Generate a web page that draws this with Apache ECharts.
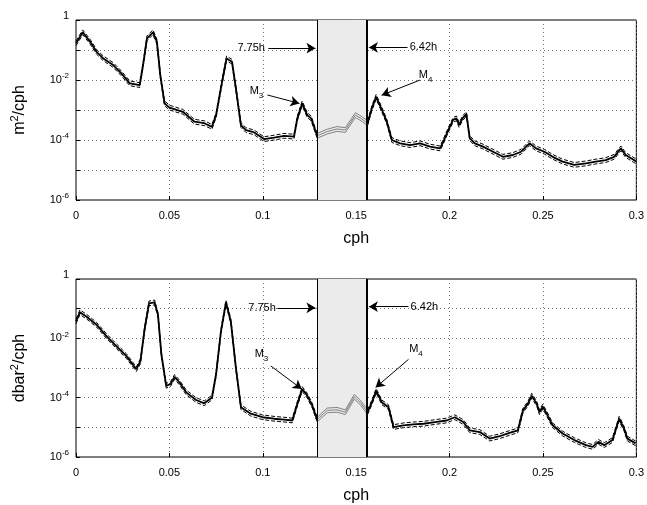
<!DOCTYPE html>
<html>
<head>
<meta charset="utf-8">
<script src="https://cdn.jsdelivr.net/npm/echarts@6/dist/echarts.min.js"></script>
<style>
html,body{margin:0;padding:0;background:#fff;}
#chart{width:647px;height:505px;}
</style>
</head>
<body>
<div id="chart"></div>
<script>
// ---------- data ----------
const xTicks = [0, 0.05, 0.1, 0.15, 0.2, 0.25, 0.3];

const freqTop = [0, 0.0036, 0.0075, 0.011, 0.0146, 0.0199, 0.0243, 0.0288, 0.0341, 0.0359,
  0.038, 0.0412, 0.0433, 0.0451, 0.0474, 0.0501, 0.0572, 0.0634, 0.0687, 0.0728,
  0.075, 0.0782, 0.0806, 0.0835, 0.0856, 0.0883, 0.091, 0.0954, 0.1007, 0.106,
  0.1114, 0.1167, 0.1185, 0.1211, 0.1238, 0.1259, 0.1291, 0.1345, 0.1398, 0.1442,
  0.1496, 0.1526, 0.1561, 0.1584, 0.1607, 0.1638, 0.1664, 0.1691, 0.1735, 0.1789,
  0.1842, 0.1895, 0.1949, 0.1966, 0.1993, 0.2019, 0.2037, 0.2051, 0.2069, 0.209,
  0.2108, 0.2135, 0.2179, 0.2233, 0.2286, 0.2339, 0.2383, 0.2428, 0.2463, 0.2508,
  0.2552, 0.2605, 0.2668, 0.273, 0.2783, 0.2836, 0.2881, 0.2917, 0.2943, 0.3];
const psdTop = [1.66e-1, 3.89e-1, 1.91e-1, 8.71e-2, 5.25e-2, 3.16e-2, 1.66e-2, 7.76e-3, 6.76e-3, 3.16e-2,
  2.45e-1, 3.89e-1, 1.91e-1, 1.48e-2, 1.66e-3, 1.20e-3, 8.71e-4, 4.07e-4, 3.63e-4, 2.75e-4,
  6.76e-4, 8.71e-3, 5.25e-2, 4.07e-2, 5.25e-3, 3.16e-4, 2.14e-4, 1.78e-4, 1.07e-4, 1.20e-4,
  1.38e-4, 1.29e-4, 5.25e-4, 1.66e-3, 6.76e-4, 5.25e-4, 1.38e-4, 1.91e-4, 2.34e-4, 2.14e-4,
  6.76e-4, 5.25e-4, 3.63e-4, 1.15e-3, 2.75e-3, 1.00e-3, 4.07e-4, 1.00e-4, 7.76e-5, 6.76e-5,
  7.76e-5, 6.03e-5, 5.25e-5, 8.71e-5, 2.14e-4, 4.68e-4, 5.25e-4, 3.16e-4, 5.25e-4, 7.24e-4,
  1.15e-4, 7.76e-5, 6.03e-5, 4.07e-5, 2.75e-5, 3.16e-5, 4.07e-5, 7.76e-5, 5.25e-5, 4.07e-5,
  2.75e-5, 1.91e-5, 1.48e-5, 1.66e-5, 1.91e-5, 2.14e-5, 2.75e-5, 5.25e-5, 3.16e-5, 1.91e-5];

const freqBot = [0, 0.0021, 0.0057, 0.011, 0.0164, 0.0217, 0.027, 0.0323, 0.0345, 0.0368,
  0.0391, 0.0421, 0.0439, 0.0457, 0.0483, 0.0506, 0.0528, 0.0554, 0.059, 0.0643,
  0.0687, 0.0728, 0.075, 0.0776, 0.0803, 0.0829, 0.0856, 0.0883, 0.0936, 0.0998,
  0.106, 0.1114, 0.1158, 0.1185, 0.1211, 0.1238, 0.1265, 0.1291, 0.1345, 0.1398,
  0.1442, 0.149, 0.1522, 0.1561, 0.1584, 0.1607, 0.1638, 0.1673, 0.17, 0.1753,
  0.1806, 0.186, 0.1922, 0.1984, 0.2028, 0.2073, 0.2108, 0.2162, 0.2215, 0.2268,
  0.2321, 0.2366, 0.2393, 0.2419, 0.244, 0.2467, 0.2481, 0.2499, 0.252, 0.2552,
  0.2605, 0.2668, 0.273, 0.2766, 0.2797, 0.2828, 0.2872, 0.2908, 0.2934, 0.2952, 0.2996];
const psdBot = [3.72e-2, 7.59e-2, 5.37e-2, 2.88e-2, 1.17e-2, 5.37e-3, 2.51e-3, 9.12e-4, 1.70e-3, 2.19e-2,
  1.51e-1, 1.62e-1, 6.17e-2, 2.88e-3, 2.51e-4, 2.88e-4, 5.01e-4, 3.24e-4, 1.51e-4, 8.32e-5,
  6.46e-5, 1.02e-4, 6.17e-4, 1.70e-2, 1.62e-1, 3.72e-2, 1.02e-3, 4.79e-5, 2.88e-5, 2.19e-5,
  1.95e-5, 1.82e-5, 1.70e-5, 6.17e-5, 1.95e-4, 1.17e-4, 5.37e-5, 1.82e-5, 3.72e-5, 3.89e-5,
  3.24e-5, 1.07e-4, 6.92e-5, 3.24e-5, 6.92e-5, 1.70e-4, 6.92e-5, 4.79e-5, 1.02e-5, 1.17e-5,
  1.26e-5, 1.32e-5, 1.51e-5, 1.70e-5, 2.19e-5, 1.51e-5, 7.94e-6, 6.92e-6, 4.17e-6, 5.01e-6,
  6.46e-6, 7.94e-6, 3.72e-5, 6.17e-5, 1.17e-4, 6.17e-5, 3.24e-5, 5.01e-5, 2.88e-5, 1.17e-5,
  6.17e-6, 3.72e-6, 2.51e-6, 2.19e-6, 3.24e-6, 2.51e-6, 3.72e-6, 1.95e-5, 9.12e-6, 4.17e-6, 2.88e-6];

// 95% confidence multiplier of the spectral estimate
const ciFactor = 1.2;
// excluded band (periods in hours)
const bandPeriods = [7.75, 6.42];
const bandLo = 1 / bandPeriods[0], bandHi = 1 / bandPeriods[1];

// annotations (data coordinates)
const annTop = {
  p1: {text: '7.75h', label: [0.0938, 0.115], from: [0.1030, 0.115], to: [0.1282, 0.115]},
  p2: {text: '6.42h', label: [0.1860, 0.122], from: [0.1775, 0.122], to: [0.1568, 0.122]},
  m3: {text: 'M{sub|3}', label: [0.0966, 4.3e-3], from: [0.1025, 3.16e-3], to: [0.1196, 1.66e-3]},
  m4: {text: 'M{sub|4}', label: [0.1872, 1.48e-2], from: [0.1842, 1.0e-2], to: [0.1636, 3.1e-3]}
};
const annBot = {
  p1: {text: '7.75h', label: [0.0996, 0.107], from: [0.1078, 0.107], to: [0.1282, 0.107]},
  p2: {text: '6.42h', label: [0.1865, 0.117], from: [0.1780, 0.117], to: [0.1568, 0.117]},
  m3: {text: 'M{sub|3}', label: [0.0993, 2.95e-3], from: [0.1043, 1.17e-3], to: [0.1209, 1.95e-4]},
  m4: {text: 'M{sub|4}', label: [0.1820, 4.3e-3], from: [0.1780, 1.95e-3], to: [0.1604, 2.2e-4]}
};

// ---------- build ----------
const FONT = 'Liberation Sans, Arial, Helvetica, sans-serif';
const tol = 0.0005;
function outsideData(xs, ys, m) {
  return xs.map((x, i) => (x > bandLo + tol && x < bandHi - tol) ? [x, '-'] : [x, ys[i] * m]);
}
function insideData(xs, ys, m) {
  const out = [];
  xs.forEach((x, i) => { if (x >= bandLo - tol && x <= bandHi + tol) out.push([x, ys[i] * m]); });
  return out;
}

function makeSeries(xs, ys, gi, ann) {
  const s = [];
  // band background + edges
  s.push({
    type: 'line', xAxisIndex: gi, yAxisIndex: gi, data: [], z: 1, silent: true,
    markArea: {silent: true, itemStyle: {color: '#ebebeb'}, data: [[{xAxis: bandLo}, {xAxis: bandHi}]]},
    markLine: {silent: true, symbol: 'none', precision: 8, label: {show: false},
      data: [{xAxis: bandLo, lineStyle: {color: '#000', width: 1, type: 'solid'}},
             {xAxis: bandHi, lineStyle: {color: '#000', width: 2, type: 'solid'}}]}
  });
  const mults = [1, ciFactor, 1 / ciFactor];
  mults.forEach((m, k) => {
    s.push({
      type: 'line', xAxisIndex: gi, yAxisIndex: gi, showSymbol: false, symbol: 'none', z: 3,
      data: outsideData(xs, ys, m), connectNulls: false,
      lineStyle: {color: '#000', width: k === 0 ? 1.8 : 1, type: k === 0 ? 'solid' : [4, 2]}
    });
    s.push({
      type: 'line', xAxisIndex: gi, yAxisIndex: gi, showSymbol: false, symbol: 'none', z: 2,
      data: insideData(xs, ys, m),
      lineStyle: {color: '#666', width: 0.8, type: 'solid'}
    });
  });
  // annotations
  const keys = ['p1', 'p2', 'm3', 'm4'];
  s.push({
    type: 'line', xAxisIndex: gi, yAxisIndex: gi, data: [], z: 5, silent: true,
    markLine: {
      silent: true, symbol: ['none', 'arrow'], symbolSize: [8, 9], precision: 8, label: {show: false},
      lineStyle: {color: '#000', width: 1, type: 'solid'},
      data: keys.map(k => [{coord: ann[k].from}, {coord: ann[k].to}])
    },
    markPoint: {
      silent: true, symbol: 'circle', symbolSize: 0,
      label: {show: true, position: 'inside', color: '#000', fontFamily: FONT, fontSize: 11,
        formatter: p => p.data.name,
        rich: {sub: {fontSize: 8, fontFamily: FONT, color: '#000', padding: [9, 0, 0, 0]}}},
      data: keys.map(k => ({name: ann[k].text, coord: ann[k].label}))
    }
  });
  return s;
}

function yAxisOpt(gi, nameStr) {
  return {
    type: 'log', logBase: 10, gridIndex: gi, min: 1e-6, max: 1, splitNumber: 6,
    name: nameStr, nameLocation: 'middle', nameGap: 46,
    nameTextStyle: {fontFamily: FONT, fontSize: 16, color: '#000',
      rich: {sup: {fontSize: 11, fontFamily: FONT, color: '#000', padding: [0, 0, 10, 0]}}},
    axisLine: {show: false},
    axisTick: {show: true, inside: true, length: 4, lineStyle: {color: '#000'}},
    axisLabel: {
      color: '#000', fontFamily: FONT, fontSize: 11, margin: 7,
      formatter: v => {
        const e = Math.round(Math.log10(v));
        if (e % 2 !== 0) return '';
        if (e === 0) return '{one|1}';
        return '10{sup|' + e + '}';
      },
      rich: {sup: {fontSize: 8, fontFamily: FONT, color: '#000', padding: [0, 0, 8, 0]},
             one: {fontSize: 11, fontFamily: FONT, color: '#000', padding: [0, 0, 9, 0]}}
    },
    splitLine: {show: true, lineStyle: {color: '#777', type: [1, 3], width: 1}}
  };
}
function xAxisOpt(gi) {
  return {
    type: 'value', gridIndex: gi, min: xTicks[0], max: xTicks[xTicks.length - 1], interval: 0.05,
    name: 'cph', nameLocation: 'middle', nameGap: 31,
    nameTextStyle: {fontFamily: FONT, fontSize: 16, color: '#000'},
    axisLine: {show: false},
    axisTick: {show: true, inside: true, length: 4, lineStyle: {color: '#000'}},
    axisLabel: {color: '#000', fontFamily: FONT, fontSize: 11, margin: 10},
    splitLine: {show: true, lineStyle: {color: '#777', type: [1, 3], width: 1}}
  };
}

const chart = echarts.init(document.getElementById('chart'), null, {renderer: 'canvas'});
chart.setOption({
  animation: false,
  backgroundColor: '#fff',
  grid: [
    {left: 76, top: 20, width: 563, height: 180, show: true, borderColor: '#000', borderWidth: 1, backgroundColor: 'transparent'},
    {left: 76, top: 279, width: 563, height: 179, show: true, borderColor: '#000', borderWidth: 1, backgroundColor: 'transparent'}
  ],
  xAxis: [xAxisOpt(0), xAxisOpt(1)],
  yAxis: [yAxisOpt(0, 'm{sup|2}/cph'), yAxisOpt(1, 'dbar{sup|2}/cph')],
  series: [].concat(makeSeries(freqTop, psdTop, 0, annTop), makeSeries(freqBot, psdBot, 1, annBot))
});
</script>
</body>
</html>
